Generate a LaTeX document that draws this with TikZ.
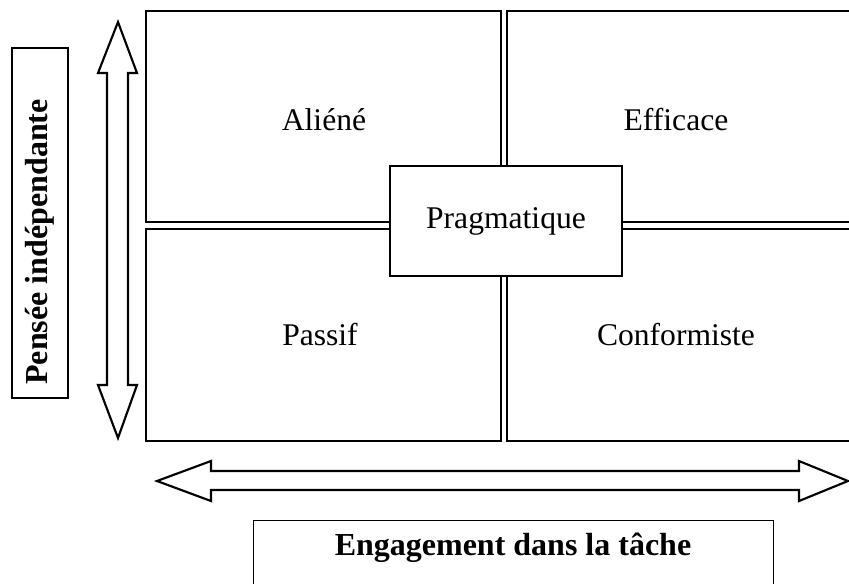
\documentclass[tikz,border=0pt]{standalone}
\usepackage{fontspec}
\setmainfont{Liberation Serif}
\tikzset{
  quad/.style={draw=black, line width=1.7pt, fill=white},
  labelbox/.style={draw=black, line width=0.8pt},
  bigarrow/.style={draw=black, line width=1.6pt, fill=white, line join=miter},
  lab/.style={font=\fontsize{23.7}{28}\selectfont},
  blab/.style={font=\fontsize{24}{28}\selectfont\bfseries}
}
\begin{document}
\begin{tikzpicture}[x=0.75pt,y=-0.75pt]
\useasboundingbox (0,0) rectangle (849,583);
\clip (0,0) rectangle (849,583);
% quadrants
\draw[quad] (146,11) rectangle (501,222);
\draw[quad] (507,11) rectangle (870,222);
\draw[quad] (146,229) rectangle (501,441);
\draw[quad] (507,229) rectangle (870,441);
\node[lab] (aliene) at (324,120) {Aliéné};
\node[lab] (efficace) at (676,120) {Efficace};
\node[lab] (passif) at (320,335) {Passif};
\node[lab] (conformiste) at (676,335) {Conformiste};
\node[lab, quad, minimum width=232*0.75pt, minimum height=110*0.75pt, inner sep=0pt] (pragmatique) at (506,221) {Pragmatique};
% vertical double arrow
\draw[bigarrow] (118,22) -- (137,73) -- (128,73) -- (128,385) -- (137,385) -- (118,438)
  -- (98,385) -- (107,385) -- (107,73) -- (98,73) -- cycle;
% horizontal double arrow
\draw[bigarrow] (157,481) -- (211,461) -- (211,471) -- (799,471) -- (799,461) -- (848,481)
  -- (799,501) -- (799,490) -- (211,490) -- (211,501) -- cycle;
% axis labels
\node[labelbox, minimum width=56*0.75pt, minimum height=350*0.75pt, inner sep=0pt] (pensee) at (40,223) {};
\node[blab, rotate=90] (penseetxt) at (40,242) {Pensée indépendante};
\node[labelbox, minimum width=520*0.75pt, minimum height=80*0.75pt, inner sep=0pt, anchor=north west] (engagement) at (253,520) {};
\node[blab] (engtxt) at (513,548) {Engagement dans la tâche};
\end{tikzpicture}
\end{document}
